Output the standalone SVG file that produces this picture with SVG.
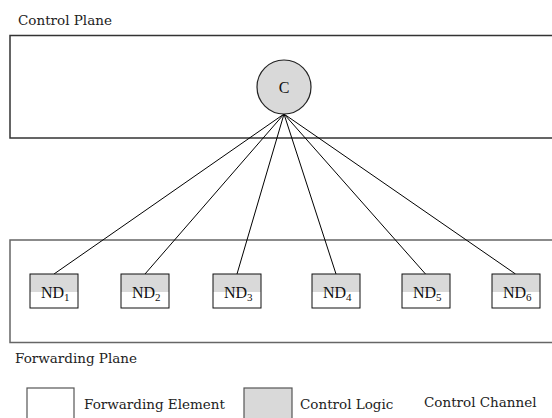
<svg xmlns="http://www.w3.org/2000/svg" width="552" height="418" viewBox="0 0 552 418">
  <style>
    .lbl { font-family: "DejaVu Serif", "Liberation Serif", serif; font-size: 13.5px; fill: #222; }
    .nd { font-family: "Liberation Serif", "Times New Roman", serif; font-size: 16px; fill: #111; }
    .sub { font-size: 11px; }
    .plane { fill: #fff; stroke: #333; stroke-width: 1.5; }
    .fwd { fill: none; stroke: #111; stroke-width: 1; }
    .ctl { fill: #d9d9d9; }
    .link { stroke: #000; stroke-width: 1; fill: none; }
    .legend { stroke: #555; stroke-width: 1.2; }
  </style>
  <rect width="552" height="418" fill="#fff"/>

  <!-- planes -->
  <g id="control-plane">
    <text class="lbl" x="18" y="25">Control Plane</text>
    <rect class="plane" x="10" y="35.5" width="560" height="102.5"/>
  </g>
  <g id="forwarding-plane">
    <rect class="plane" x="10" y="240" width="560" height="102.5" style="stroke:#666"/>
    <text class="lbl" x="15" y="363">Forwarding Plane</text>
  </g>

  <!-- control channels -->
  <g id="connectors">
    <line class="link" x1="284" y1="114" x2="54" y2="274"/>
    <line class="link" x1="284" y1="114" x2="145" y2="274"/>
    <line class="link" x1="284" y1="114" x2="237" y2="274"/>
    <line class="link" x1="284" y1="114" x2="336" y2="274"/>
    <line class="link" x1="284" y1="114" x2="425.5" y2="274"/>
    <line class="link" x1="284" y1="114" x2="515.5" y2="274"/>
  </g>

  <!-- controller -->
  <g id="controller">
    <circle cx="284" cy="87" r="27" fill="#d9d9d9" stroke="#222" stroke-width="1.2"/>
    <text class="nd" x="284" y="93" text-anchor="middle">C</text>
  </g>

  <!-- network devices -->
  <g id="nd1">
    <rect class="ctl" x="30" y="274" width="48" height="18"/>
    <rect class="fwd" x="30" y="274" width="48" height="34"/>
    <text class="nd" x="41" y="298">ND<tspan class="sub" dy="3">1</tspan></text>
  </g>
  <g id="nd2">
    <rect class="ctl" x="121" y="274" width="48" height="18"/>
    <rect class="fwd" x="121" y="274" width="48" height="34"/>
    <text class="nd" x="132" y="298">ND<tspan class="sub" dy="3">2</tspan></text>
  </g>
  <g id="nd3">
    <rect class="ctl" x="213" y="274" width="48" height="18"/>
    <rect class="fwd" x="213" y="274" width="48" height="34"/>
    <text class="nd" x="224" y="298">ND<tspan class="sub" dy="3">3</tspan></text>
  </g>
  <g id="nd4">
    <rect class="ctl" x="312" y="274" width="48" height="18"/>
    <rect class="fwd" x="312" y="274" width="48" height="34"/>
    <text class="nd" x="323" y="298">ND<tspan class="sub" dy="3">4</tspan></text>
  </g>
  <g id="nd5">
    <rect class="ctl" x="402" y="274" width="48" height="18"/>
    <rect class="fwd" x="402" y="274" width="48" height="34"/>
    <text class="nd" x="413" y="298">ND<tspan class="sub" dy="3">5</tspan></text>
  </g>
  <g id="nd6">
    <rect class="ctl" x="492" y="274" width="48" height="18"/>
    <rect class="fwd" x="492" y="274" width="48" height="34"/>
    <text class="nd" x="503" y="298">ND<tspan class="sub" dy="3">6</tspan></text>
  </g>

  <!-- legend -->
  <g id="legend">
    <rect class="legend" x="27" y="388" width="47" height="40" fill="#fff"/>
    <text class="lbl" x="84" y="409">Forwarding Element</text>
    <rect class="legend" x="244" y="388" width="48" height="40" fill="#d9d9d9"/>
    <text class="lbl" x="300" y="409">Control Logic</text>
    <text class="lbl" x="424" y="407">Control Channel</text>
  </g>
</svg>
